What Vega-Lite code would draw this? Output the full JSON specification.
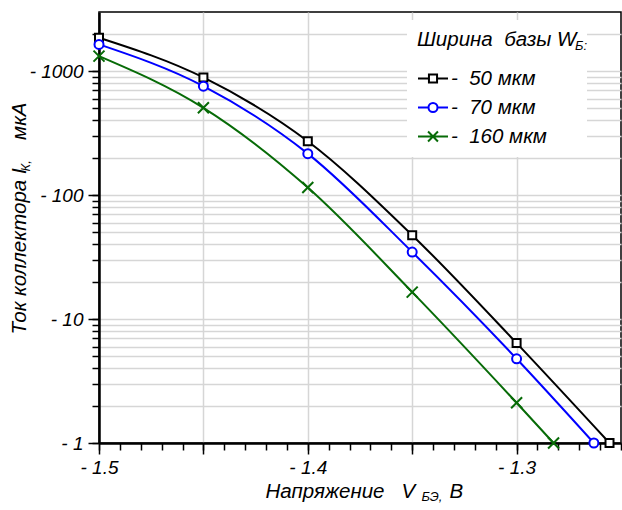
{
  "$schema": "https://vega.github.io/schema/vega-lite/v6.json",
  "width": 522,
  "height": 431,
  "autosize": {"type": "none"},
  "padding": {"left": 99, "top": 12, "right": 1, "bottom": 67},
  "background": "white",
  "config": {
    "view": {"stroke": "black", "strokeWidth": 1.5},
    "font": "Liberation Sans",
    "axis": {
      "domainColor": "black",
      "domainWidth": 2,
      "tickColor": "black",
      "tickWidth": 1.5,
      "labelFont": "Liberation Sans",
      "labelFontStyle": "italic",
      "labelFontSize": 19,
      "labelColor": "black",
      "titleFont": "Liberation Sans",
      "titleFontStyle": "italic",
      "titleFontWeight": "normal",
      "titleColor": "black",
      "gridColor": "#d6d6d6",
      "gridWidth": 1.5,
      "labelFlush": false,
      "labelOverlap": false
    },
    "legend": {
      "titleFont": "Liberation Sans",
      "titleFontSize": 20.5,
      "titleFontStyle": "italic",
      "titleFontWeight": "normal",
      "titleColor": "black",
      "labelFont": "Liberation Sans",
      "labelFontSize": 20.5,
      "labelFontStyle": "italic",
      "labelColor": "black"
    }
  },
  "title": {
    "text": "Б:",
    "anchor": "start",
    "frame": "group",
    "orient": "top",
    "offset": 0,
    "dx": 476,
    "dy": 51,
    "baseline": "alphabetic",
    "font": "Liberation Sans",
    "fontSize": 13,
    "fontStyle": "italic",
    "fontWeight": "normal",
    "color": "black"
  },
  "data": {
    "values": [
      {"w": "50 мкм", "v": -1.5, "i": 1860},
      {"w": "50 мкм", "v": -1.45, "i": 889},
      {"w": "50 мкм", "v": -1.4, "i": 272},
      {"w": "50 мкм", "v": -1.35, "i": 47.5},
      {"w": "50 мкм", "v": -1.3, "i": 6.4},
      {"w": "50 мкм", "v": -1.2555, "i": 1.0},
      {"w": "70 мкм", "v": -1.5, "i": 1644},
      {"w": "70 мкм", "v": -1.45, "i": 757},
      {"w": "70 мкм", "v": -1.4, "i": 216},
      {"w": "70 мкм", "v": -1.35, "i": 34.7},
      {"w": "70 мкм", "v": -1.3, "i": 4.78},
      {"w": "70 мкм", "v": -1.263, "i": 1.0},
      {"w": "160 мкм", "v": -1.5, "i": 1322},
      {"w": "160 мкм", "v": -1.45, "i": 506},
      {"w": "160 мкм", "v": -1.4, "i": 115},
      {"w": "160 мкм", "v": -1.35, "i": 16.5},
      {"w": "160 мкм", "v": -1.3, "i": 2.11},
      {"w": "160 мкм", "v": -1.2823, "i": 1.0}
    ]
  },
  "layer": [
    {
      "mark": {"type": "line", "interpolate": "monotone", "strokeWidth": 2},
      "encoding": {
        "x": {
          "field": "v",
          "type": "quantitative",
          "scale": {"domain": [-1.5, -1.25], "nice": false, "zero": false},
          "axis": {
            "orient": "bottom",
            "values": [-1.5, -1.45, -1.4, -1.35, -1.3],
            "grid": true,
            "tickSize": 11,
            "labelPadding": 4,
            "labelExpr": "abs(datum.value * 10 - round(datum.value * 10)) < 0.001 ? '- ' + format(-datum.value, '.1f') : ''",
            "title": "Напряжение\u00a0\u00a0\u00a0V\u00a0\u00a0\u00a0\u00a0\u00a0\u00a0В",
            "titleFontSize": 20.5,
            "titleAlign": "left",
            "titleBaseline": "alphabetic",
            "titleX": 166,
            "titleY": 54
          }
        },
        "y": {
          "field": "i",
          "type": "quantitative",
          "scale": {"type": "log", "domain": [1, 3000], "nice": false},
          "axis": {
            "orient": "left",
            "values": [1, 10, 100, 1000],
            "grid": false,
            "tickSize": 11,
            "labelPadding": 5,
            "labelExpr": "'- ' + format(datum.value, 'd')",
            "title": "Ток\u00a0коллектора\u00a0I\u00a0\u00a0\u00a0\u00a0\u00a0мкА",
            "titleFontSize": 20.5,
            "titleAngle": 270,
            "titleAlign": "left",
            "titleBaseline": "alphabetic",
            "titleX": -74,
            "titleY": 322
          }
        },
        "color": {
          "field": "w",
          "type": "nominal",
          "sort": ["50 мкм", "70 мкм", "160 мкм"],
          "scale": {"range": ["#000000", "#0000ff", "#076b07"]},
          "legend": null
        }
      }
    },
    {
      "mark": {"type": "point", "filled": true, "fill": "white", "strokeWidth": 2, "size": 100, "opacity": 1},
      "encoding": {
        "x": {
          "field": "v",
          "type": "quantitative",
          "axis": {
            "orient": "bottom",
            "values": [-1.5, -1.49, -1.48, -1.47, -1.46, -1.45, -1.44, -1.43, -1.42, -1.41, -1.4, -1.39, -1.38, -1.37, -1.36, -1.35, -1.34, -1.33, -1.32, -1.31, -1.3, -1.29, -1.28, -1.27, -1.26, -1.25],
            "grid": false,
            "tickSize": 7,
            "labels": false,
            "title": "БЭ,",
            "titleFontSize": 13,
            "titleAlign": "left",
            "titleBaseline": "alphabetic",
            "titleX": 322,
            "titleY": 57
          }
        },
        "y": {
          "field": "i",
          "type": "quantitative",
          "axis": {
            "orient": "left",
            "values": [1, 2, 3, 4, 5, 6, 7, 8, 9, 10, 20, 30, 40, 50, 60, 70, 80, 90, 100, 200, 300, 400, 500, 600, 700, 800, 900, 1000, 2000],
            "grid": true,
            "tickSize": 7,
            "labels": false,
            "title": "К,",
            "titleFontSize": 13,
            "titleAngle": 270,
            "titleAlign": "left",
            "titleBaseline": "alphabetic",
            "titleX": -70,
            "titleY": 159
          }
        },
        "shape": {
          "field": "w",
          "type": "nominal",
          "scale": {
            "range": [
              "M-1.1,-1.1L1.1,1.1M-1.1,1.1L1.1,-1.1",
              "M-0.8,-0.8H0.8V0.8H-0.8Z",
              "M0.9,0A0.9,0.9,0,1,1,-0.9,0A0.9,0.9,0,1,1,0.9,0Z"
            ]
          },
          "legend": null
        },
        "stroke": {
          "field": "w",
          "type": "nominal",
          "scale": {"domain": ["50 мкм", "70 мкм", "160 мкм"], "range": ["#000000", "#0000ff", "#076b07"]},
          "legend": {
            "title": "Ширина\u00a0\u00a0базы W",
            "orient": "none",
            "legendX": 308,
            "legendY": 8,
            "padding": 10,
            "fillColor": "white",
            "titlePadding": 12,
            "labelOffset": 2,
            "labelExpr": "'-\u00a0\u00a0' + datum.label",
            "symbolSize": 900,
            "symbolStrokeWidth": 2,
            "symbolFillColor": "white",
            "symbolType": {"expr": "datum.value === '50 мкм' ? 'M-1,0H-0.27M0.27,0H1M-0.27,-0.27H0.27V0.27H-0.27Z' : datum.value === '70 мкм' ? 'M-1,0H-0.3M0.3,0H1M0.3,0A0.3,0.3,0,1,1,-0.3,0A0.3,0.3,0,1,1,0.3,0Z' : 'M-1,0H1M-0.33,-0.33L0.33,0.33M-0.33,0.33L0.33,-0.33'"},
            "rowPadding": 2
          }
        }
      }
    }
  ],
  "resolve": {"axis": {"x": "independent", "y": "independent"}}
}
